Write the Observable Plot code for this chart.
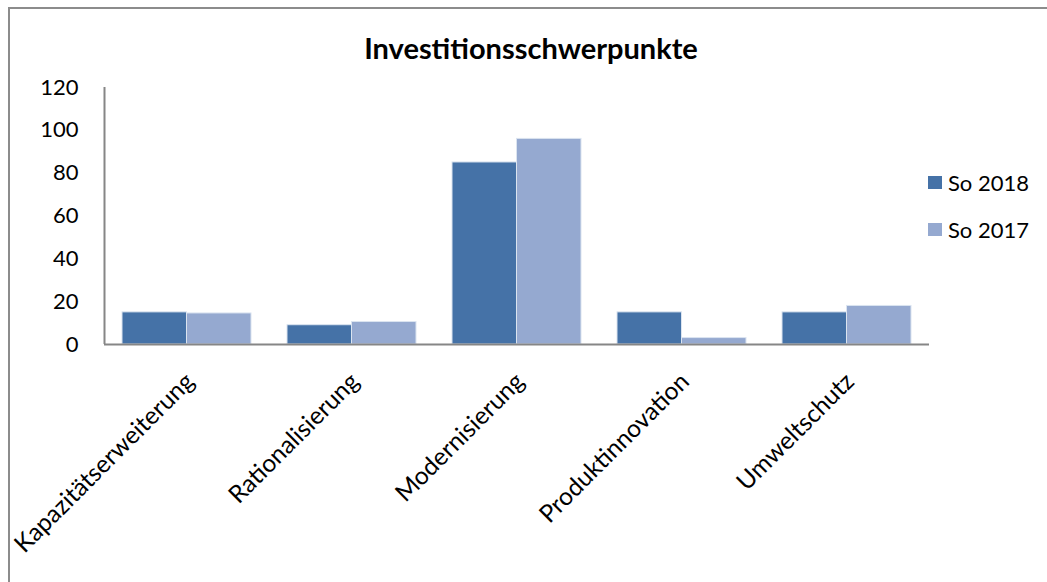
<!DOCTYPE html>
<html>
<head>
<meta charset="utf-8">
<script src="https://cdn.jsdelivr.net/npm/d3@7"></script>
<script src="https://cdn.jsdelivr.net/npm/@observablehq/plot@0.6"></script>
<style>
  html, body { margin: 0; padding: 0; background: #fff; }
  #wrap { position: relative; width: 1047px; height: 582px; overflow: hidden; font-family: Lato, "Open Sans", sans-serif; }
  #frame { position: absolute; left: 8px; top: 7px; width: 1100px; height: 700px; border-top: 2px solid #8c8c8c; border-left: 2px solid #8c8c8c; box-sizing: border-box; }
  #chart { position: absolute; left: 0; top: 0; }
  #title { position: absolute; left: 0; width: 1062px; top: 30px; text-align: center; font-weight: bold; font-size: 29px; color: #000; }
  #legend { position: absolute; left: 928px; top: 168px; font-size: 22px; color: #000; }
  .item { display: flex; align-items: center; height: 28px; margin-bottom: 19px; }
  .sw { width: 14px; height: 13px; margin-right: 6px; }
</style>
</head>
<body>
<div id="wrap">
  <div id="frame"></div>
  <div id="chart"></div>
  <div id="title"></div>
  <div id="legend"></div>
</div>
<script>
const titleText = "Investitionsschwerpunkte";
const categories = ["Kapazitätserweiterung", "Rationalisierung", "Modernisierung", "Produktinnovation", "Umweltschutz"];
const series = ["So 2018", "So 2017"];
const values2018 = [15, 9, 85, 15, 15];
const values2017 = [14.5, 10.5, 96, 3, 18];
const yTicks = [0, 20, 40, 60, 80, 100, 120];
const colors = ["#4572a7", "#95a9d0"];

const rows2018 = categories.map((c, i) => ({cat: c, series: series[0], value: values2018[i]}));
const rows2017 = categories.map((c, i) => ({cat: c, series: series[1], value: values2017[i]}));

const fontFamily = "Lato, 'Open Sans', sans-serif";

const chart = Plot.plot({
  width: 1047,
  height: 582,
  marginLeft: 104,
  marginRight: 118,
  marginTop: 87,
  marginBottom: 238,
  style: {fontFamily, fontSize: "22px", color: "#000", background: "transparent"},
  x: {domain: categories, paddingInner: 36 / 165, paddingOuter: 18 / 165, axis: null},
  y: {domain: [0, 120], ticks: yTicks, tickSize: 0, tickPadding: 26, label: null},
  color: {domain: series, range: colors},
  marks: [
    Plot.barY(rows2018, {x: "cat", y: "value", fill: "series", insetRight: 64.5, stroke: "#dbe4f0", strokeWidth: 1}),
    Plot.barY(rows2017, {x: "cat", y: "value", fill: "series", insetLeft: 64.5, stroke: "#dbe4f0", strokeWidth: 1}),
    Plot.ruleY([0], {stroke: "#868686", strokeWidth: 2}),
    Plot.ruleX([categories[0]], {y1: 0, y2: 120, stroke: "#868686", strokeWidth: 2, dx: -82.5}),
    Plot.text(categories, {x: d => d, frameAnchor: "bottom", rotate: -45, textAnchor: "end", lineAnchor: "middle", dx: 3, dy: 33, fontSize: 24.5, fill: "#000"})
  ]
});
document.getElementById("chart").appendChild(chart);
document.getElementById("title").textContent = titleText;

const legend = document.getElementById("legend");
series.forEach((s, i) => {
  const item = document.createElement("div");
  item.className = "item";
  const sw = document.createElement("div");
  sw.className = "sw";
  sw.style.background = colors[i];
  const lab = document.createElement("span");
  lab.textContent = s;
  item.appendChild(sw);
  item.appendChild(lab);
  legend.appendChild(item);
});
</script>
</body>
</html>
